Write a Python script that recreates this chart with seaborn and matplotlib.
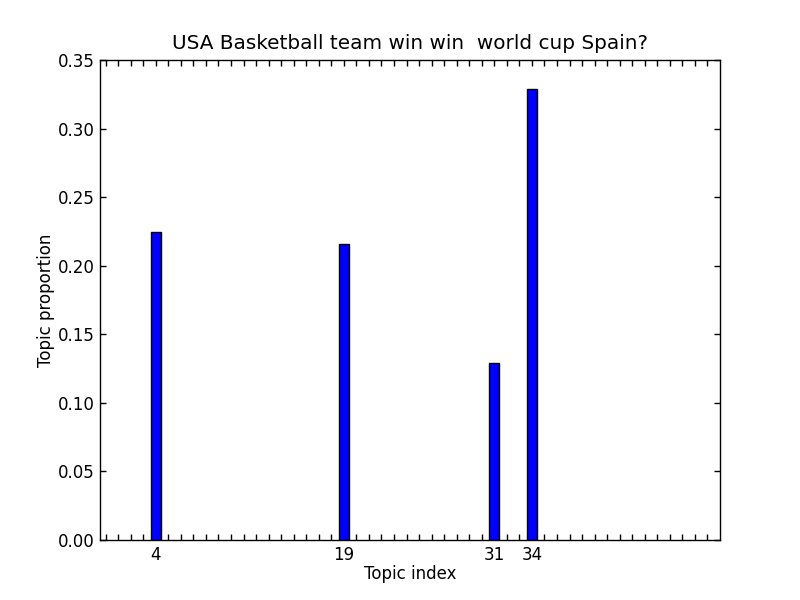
import numpy as np
import matplotlib
matplotlib.use("Agg")
import matplotlib.pyplot as plt
import seaborn as sns

# data
topics = [4, 19, 31, 34]
proportions = [0.2245, 0.2155, 0.129, 0.329]
n_topics = 49
title = "USA Basketball team win win  world cup Spain?"

sns.set_style("ticks")
plt.rcParams["font.family"] = ["DejaVu Sans"]
plt.rcParams["text.color"] = "black"
plt.rcParams["axes.labelcolor"] = "black"
plt.rcParams["xtick.color"] = "black"
plt.rcParams["ytick.color"] = "black"
plt.rcParams["xtick.direction"] = "in"
plt.rcParams["ytick.direction"] = "in"
plt.rcParams["xtick.top"] = True
plt.rcParams["ytick.right"] = True

fig, ax = plt.subplots(figsize=(8, 6), dpi=100)
fig.subplots_adjust(left=0.125, right=0.9, bottom=0.1, top=0.9)

# native_scale bars get width relative to the smallest gap between topics
gap = np.min(np.diff(topics))
sns.barplot(x=topics, y=proportions, native_scale=True, width=0.8 / gap,
            color="blue", saturation=1, edgecolor="black", linewidth=1, ax=ax)

ax.set_xlim(-0.45, n_topics)
ax.set_ylim(0, 0.35)
ax.set_xticks(topics)
ax.set_xticklabels([str(t) for t in topics])
ax.set_xticks(range(0, n_topics), minor=True)
ax.set_yticks(np.arange(0, 0.351, 0.05))
ax.set_yticklabels(["%.2f" % v for v in np.arange(0, 0.351, 0.05)])
ax.tick_params(which="major", length=4, width=1, labelsize=12, colors="black",
               top=True, right=True, pad=4)
ax.tick_params(which="minor", axis="x", length=4, width=1, top=True, color="black")
ax.tick_params(which="minor", axis="y", length=0)
for s in ax.spines.values():
    s.set_color("black")
    s.set_linewidth(1)

ax.set_title(title, fontsize=14.4, pad=8, color="black")
ax.set_xlabel("Topic index", fontsize=12, labelpad=1)
ax.set_ylabel("Topic proportion", fontsize=12, labelpad=2, color="black")

fig.savefig("out.png", dpi=100)
